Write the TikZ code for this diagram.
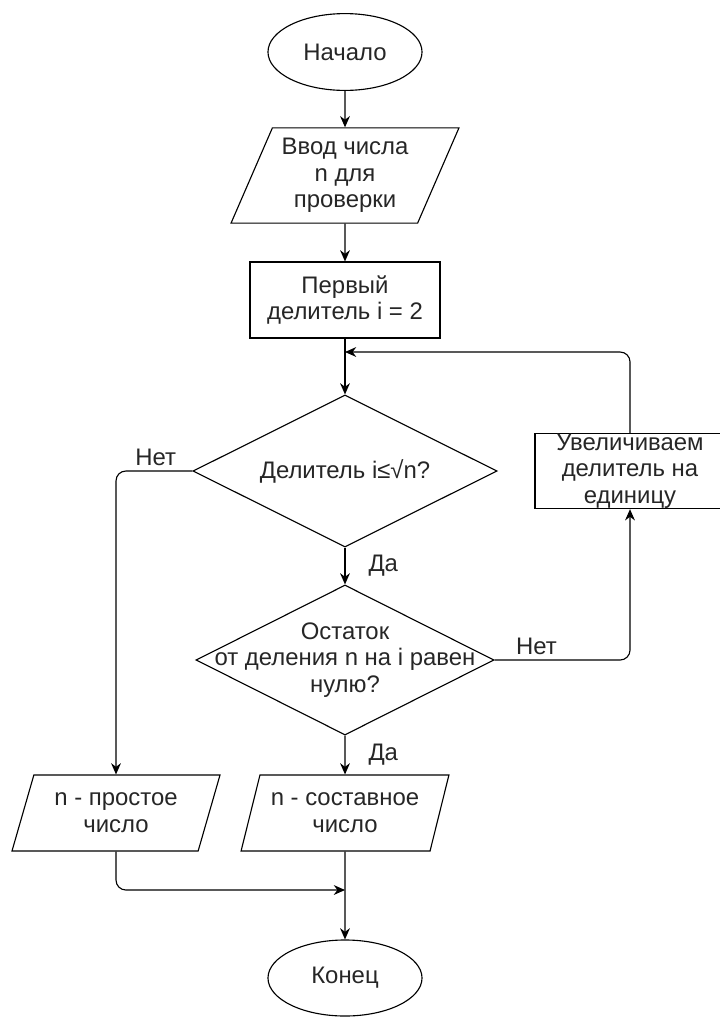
\documentclass[tikz,border=0pt]{standalone}
\usepackage{fontspec}
\setmainfont{Liberation Sans}
\usetikzlibrary{shapes.geometric,arrows.meta}

\begin{document}
\begin{tikzpicture}[x=0.025cm,y=-0.025cm,->,>={Stealth[length=8pt,width=7pt]},
  line width=0.8pt,font=\fontsize{17}{19}\selectfont,
  every node/.style={text=black!85},
  term/.style={ellipse,draw,minimum width=3.85cm,minimum height=1.92cm},
  io/.style={trapezium,draw,trapezium stretches=true,align=center,inner sep=1pt},
  proc/.style={rectangle,draw,align=center,minimum width=4.75cm,minimum height=1.9cm},
  cond/.style={diamond,draw,aspect=2,inner sep=0pt}]

\path[use as bounding box] (0,0) rectangle (720,1021);

% main column
\node[term] (start) at (345,52) {Начало};
\node[io,trapezium left angle=64.6,trapezium right angle=115.4,
  minimum width=5.7cm,minimum height=2.38cm] (input) at (345,175.5)
  {Ввод числа\\n для\\проверки};
\node[proc] (init) at (345,300) {Первый\\делитель i = 2};
\node[cond,minimum width=7.6cm,minimum height=3.8cm,
  label={[align=center]center:Делитель i≤√n?}] (cond1) at (345,471) {};
\node[cond,minimum width=7.45cm,minimum height=3.75cm,
  label={[align=center]center:Остаток\\от деления n на i равен\\нулю?}] (cond2) at (345,660) {};
\node[proc,minimum height=1.88cm,
  label={[align=center,inner sep=0pt]center:Увеличиваем\\делитель на\\единицу}] (inc) at (630,471) {};

% outputs
\node[io,trapezium left angle=68.5,trapezium right angle=111.5,
  minimum width=5.2cm,minimum height=1.9cm] (prime) at (116,813) {n - простое\\число};
\node[io,trapezium left angle=68.5,trapezium right angle=111.5,
  minimum width=5.2cm,minimum height=1.9cm] (comp) at (345,813) {n - составное\\число};
\node[term,minimum height=1.9cm] (end) at (345,978) {Конец};

\coordinate (merge) at (345,352);
\coordinate (join) at (345,890);

\draw (start) -- (input);
\draw (input) -- (init);
\draw (init) -- (cond1);
\draw[rounded corners=7pt] (inc.north) |- (merge);
\draw[rounded corners=7pt] (cond1.west) -| (prime.north) node[pos=0.24,above] {Нет};
\draw (cond1) -- (cond2) node[midway,right=13pt] {Да};
\draw[rounded corners=7pt] (cond2.east) -| (inc.south) node[pos=0.155,above] {Нет};
\draw (cond2) -- (comp) node[midway,right=13pt] {Да};
\draw[rounded corners=7pt] (prime.south) |- (join);
\draw (comp) -- (end);
\end{tikzpicture}
\end{document}
